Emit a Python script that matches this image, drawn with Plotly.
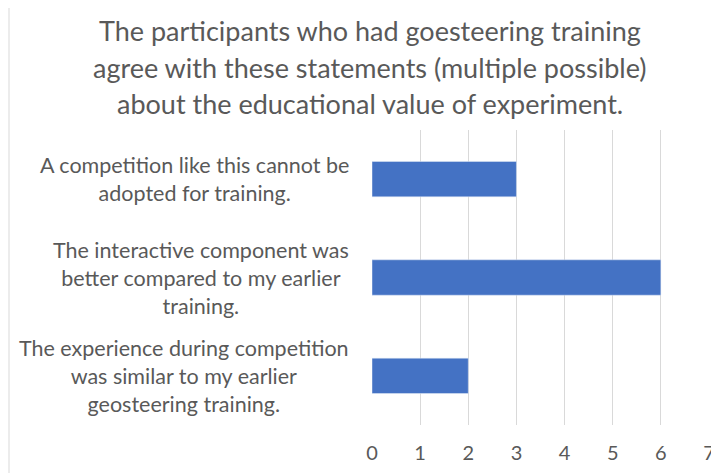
import plotly.graph_objects as go

# Данные
statements = [
    "A competition like this cannot be<br>adopted for training.",
    "The interactive component was<br>better compared to my earlier<br>training.",
    "The experience during competition<br>was similar to my earlier<br>geosteering training.",
]
counts = [3, 6, 2]
x_ticks = [0, 1, 2, 3, 4, 5, 6, 7]
title_lines = [
    "The participants who had goesteering training",
    "agree with these statements (multiple possible)",
    "about the educational value of experiment.",
]

# страница имеет отступ body 8px — компенсируем
OFF = 8
W, H = 719 - OFF, 473 - OFF
L, R, T, B = 372 - OFF, 10, 130 - OFF, 48
pw, ph = W - L - R, H - T - B

def px_x(px):
    return (px - OFF - L) / pw

def px_y(py):
    return (H - B - (py - OFF)) / ph

fig = go.Figure()
fig.add_trace(go.Bar(
    x=counts,
    y=list(range(len(statements))),
    orientation="h",
    marker_color="#4472C4",
    width=0.36,
))

# Подписи категорий (центрированные строки)
for i, s in enumerate(statements):
    fig.add_annotation(
        x=px_x(351), xref="paper", xanchor="right",
        y=i, yref="y", yanchor="middle",
        text=s, showarrow=False, align="center",
        font=dict(size=21.5, color="#595959"),
    )

# Заголовок (по строкам, чтобы задать межстрочный интервал)
for line, py in zip(title_lines, [31, 68, 103]):
    fig.add_annotation(
        x=px_x(370), xref="paper", xanchor="center",
        y=px_y(py), yref="paper", yanchor="middle",
        text=line, showarrow=False,
        font=dict(size=27, color="#595959"),
    )

# Рамка диаграммы
fig.add_shape(type="rect", xref="paper", yref="paper",
              x0=px_x(9), x1=px_x(740), y0=px_y(495), y1=px_y(5),
              line=dict(color="#D9D9D9", width=1))

fig.update_layout(
    width=W, height=H,
    margin=dict(l=L, r=R, t=T, b=B, autoexpand=False),
    paper_bgcolor="white", plot_bgcolor="white",
    font=dict(family="Lato", color="#595959"),
    showlegend=False,
)
fig.update_xaxes(
    range=[0, 7], tickvals=x_ticks, showgrid=True, gridcolor="#D9D9D9",
    zeroline=False, showline=False, tickfont=dict(size=20, color="#595959"),
    ticklabelstandoff=14, automargin=False,
)
fig.update_yaxes(
    range=[2.5, -0.5], showticklabels=False, showgrid=False, zeroline=False,
    automargin=False,
)

fig.write_html("out.html")
